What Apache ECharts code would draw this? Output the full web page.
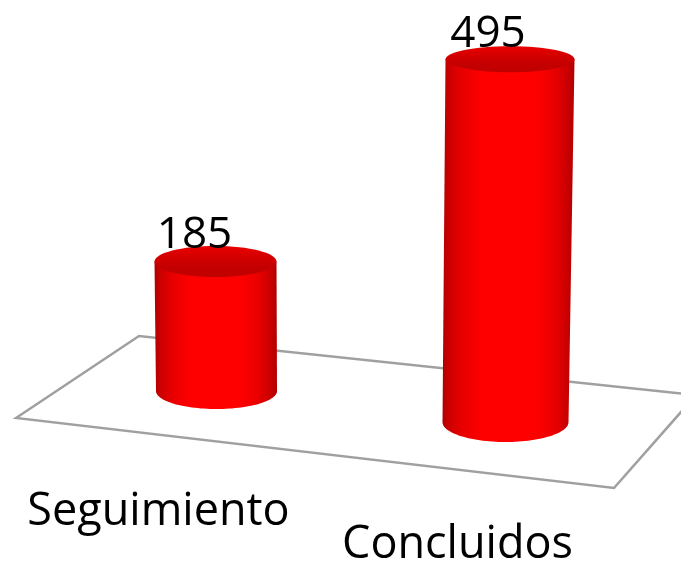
<!DOCTYPE html>
<html><head><meta charset="utf-8">
<style>html,body{margin:0;padding:0;background:#fff}#c{width:681px;height:563px}</style>
<script src="https://cdn.jsdelivr.net/npm/echarts@6/dist/echarts.min.js"></script>
</head><body><div id="c"></div>
<script>
const categories = ['Seguimiento', 'Concluidos'];
const values = [185, 495];

// Perspective of each bar on the floor plane (styling, not data)
const view = [
  {scale: 0.955, lift: -31, rxTop: 61, ryTop: 15.5, rxBot: 60.5, ryBot: 18, skew: -1, vdx: -21, vdy: -13, cdx: -58, cy: 512},
  {scale: 1, lift: 0, rxTop: 64.5, ryTop: 13, rxBot: 63, ryBot: 20, skew: 4.5, vdx: -22, vdy: -14, cdx: -48, cy: 545}
];
const FONT = '"Open Sans"';

function renderBar(params, api) {
  const i = params.dataIndex, v = view[i];
  const base = api.coord([i, 0]);
  const top = api.coord([i, api.value(1)]);
  const bx = base[0], by = base[1] + v.lift;
  const ty = by - (base[1] - top[1]) * v.scale;
  const tx = bx + v.skew;
  const pts = [[tx - v.rxTop, ty]];
  for (let k = 0; k <= 60; k++) {
    const a = Math.PI - Math.PI * k / 60;
    pts.push([bx + v.rxBot * Math.cos(a), by + v.ryBot * Math.sin(a)]);
  }
  pts.push([tx + v.rxTop, ty]);
  const side = {type: 'linear', x: 0, y: 0, x2: 1, y2: 0, colorStops: [
    {offset: 0, color: '#b00000'}, {offset: 0.05, color: '#cc0000'}, {offset: 0.15, color: '#e80000'},
    {offset: 0.3, color: '#ff0000'}, {offset: 0.7, color: '#ff0000'},
    {offset: 0.85, color: '#e80000'}, {offset: 0.95, color: '#c80000'}, {offset: 1, color: '#b00000'}]};
  const cap = {type: 'linear', x: 0, y: 0, x2: 0, y2: 1, colorStops: [
    {offset: 0, color: '#ea0000'}, {offset: 0.35, color: '#d40000'}, {offset: 0.7, color: '#c40000'}, {offset: 1, color: '#c00000'}]};
  return {type: 'group', children: [
    {type: 'polygon', shape: {points: pts}, style: {fill: side}},
    {type: 'ellipse', shape: {cx: tx, cy: ty, rx: v.rxTop, ry: v.ryTop}, style: {fill: cap}},
    {type: 'text', z2: 10, style: {text: String(api.value(1)), x: tx + v.vdx, y: ty - v.ryTop + v.vdy + 2,
      align: 'center', verticalAlign: 'middle', font: '44px ' + FONT, fill: '#000'}},
    {type: 'text', z2: 10, style: {text: categories[i], x: bx + v.cdx, y: v.cy,
      align: 'center', verticalAlign: 'middle', font: '45px ' + FONT, fill: '#000'}}
  ]};
}

const chart = echarts.init(document.getElementById('c'), null, {renderer: 'canvas'});
chart.setOption({
  animation: false,
  backgroundColor: '#fff',
  grid: {left: 72, right: 31, top: 19, bottom: 141},
  xAxis: {type: 'category', data: categories, show: false},
  yAxis: {type: 'value', min: 0, max: 550, show: false},
  graphic: [{type: 'polygon', z: 0, silent: true,
    shape: {points: [[16, 418], [139, 336], [696, 395], [614, 488]]},
    style: {fill: 'none', stroke: '#a0a0a0', lineWidth: 2.5}}],
  series: [{type: 'custom', z: 5, clip: false, renderItem: renderBar,
    encode: {x: 0, y: 1},
    data: values.map((v, i) => [i, v])}]
});
</script></body></html>
